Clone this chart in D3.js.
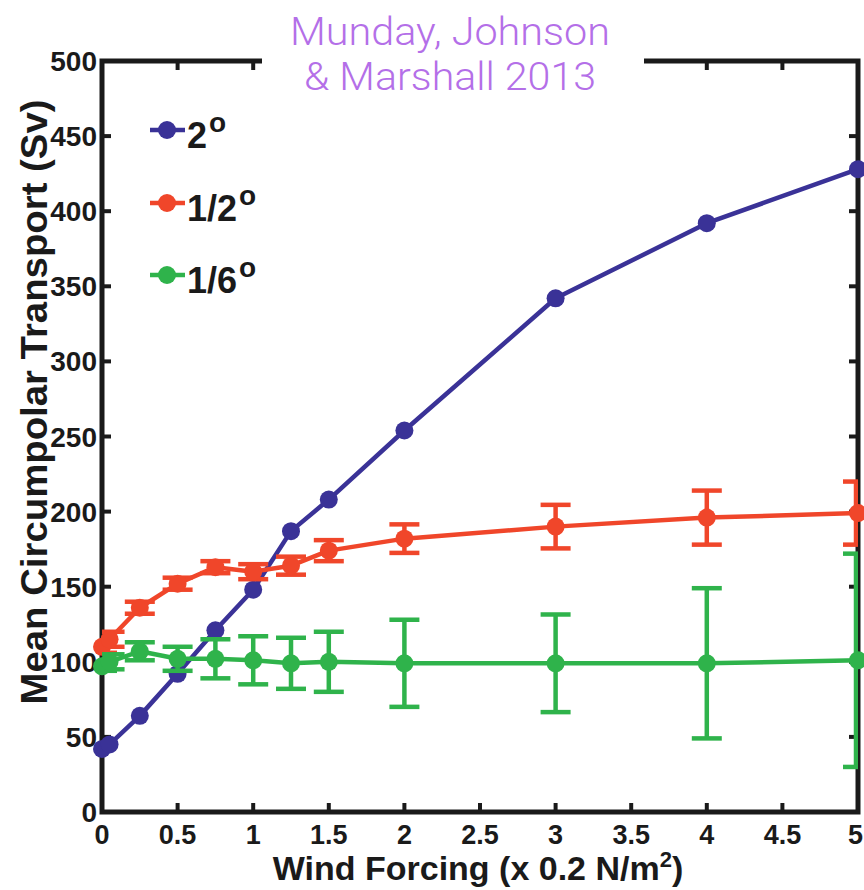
<!DOCTYPE html>
<html><head><meta charset="utf-8">
<script src="https://cdn.jsdelivr.net/npm/d3@7"></script>
<style>body{margin:0;background:#fff} svg{display:block}</style>
</head><body>
<svg id="chart" width="864" height="890"></svg>
<script>
// ---- data ----
const windForcing = [0, 0.05, 0.25, 0.5, 0.75, 1, 1.25, 1.5, 2, 3, 4, 5];
const transport2deg = [42, 45, 64, 92, 121, 148, 187, 208, 254, 342, 392, 428];
const transportHalfDeg = [110, 115, 136, 152, 163, 160, 164, 174, 182, 190, 196, 199];
const errorHalfDeg = [4, 5, 4, 4, 4, 5, 6, 7, 9.5, 14.5, 18, 21];
const transportSixthDeg = [97, 100, 107, 102, 102, 101, 99, 100, 99, 99, 99, 101];
const errorSixthDeg = [3, 5, 6, 8, 13, 16, 17, 20, 29, 32.5, 50, 71];
const seriesLabels = ["2", "1/2", "1/6"];
const xTickValues = [0, 0.5, 1, 1.5, 2, 2.5, 3, 3.5, 4, 4.5, 5];
const xTickLabels = ["0", "0.5", "1", "1.5", "2", "2.5", "3", "3.5", "4", "4.5", "5"];
const yTickValues = [0, 50, 100, 150, 200, 250, 300, 350, 400, 450, 500];
const titleLines = ["Munday, Johnson", "& Marshall 2013"];

const colors = ["#3a3297", "#f0462a", "#2fb34b"];

const series = [
  {values: transport2deg, err: null},
  {values: transportHalfDeg, err: errorHalfDeg},
  {values: transportSixthDeg, err: errorSixthDeg}
];

const svg = d3.select("#chart");
const W = 864;
const L = 102, R = 858, T = 61, B = 812;
const x = d3.scaleLinear().domain([0, 5]).range([L, R]);
const y = d3.scaleLinear().domain([0, 500]).range([B, T]);

const fontBold = "'Liberation Sans', Arial, Helvetica, sans-serif";
const ink = "#1a1a1a";

svg.append("defs").append("clipPath").attr("id", "plotclip")
  .append("rect").attr("x", L).attr("y", T).attr("width", R - L).attr("height", B - T);

// axes box (drawn below data)
const ax = svg.append("g");
ax.append("rect").attr("x", L).attr("y", T).attr("width", R - L).attr("height", B - T)
  .attr("fill", "none").attr("stroke", ink).attr("stroke-width", 5);
const tl = 9;
xTickValues.forEach(v => {
  ax.append("line").attr("x1", x(v)).attr("x2", x(v)).attr("y1", B).attr("y2", B - tl)
    .attr("stroke", ink).attr("stroke-width", 4);
  ax.append("line").attr("x1", x(v)).attr("x2", x(v)).attr("y1", T).attr("y2", T + tl)
    .attr("stroke", ink).attr("stroke-width", 4);
});
yTickValues.forEach(v => {
  ax.append("line").attr("x1", L).attr("x2", L + tl).attr("y1", y(v)).attr("y2", y(v))
    .attr("stroke", ink).attr("stroke-width", 4);
  ax.append("line").attr("x1", R).attr("x2", R - tl).attr("y1", y(v)).attr("y2", y(v))
    .attr("stroke", ink).attr("stroke-width", 4);
});

// tick labels (keep the last one inside the page)
xTickValues.forEach((v, i) => {
  const px = x(v);
  const last = px + 9 > W;
  ax.append("text").attr("x", last ? W - 1 : px).attr("y", 844)
    .attr("text-anchor", last ? "end" : "middle").attr("font-family", fontBold).attr("font-weight", "bold")
    .attr("font-size", 27).attr("fill", ink)
    .text(xTickLabels[i]);
});
yTickValues.forEach(v => {
  ax.append("text").attr("x", 97).attr("y", y(v) + 10)
    .attr("text-anchor", "end").attr("font-family", fontBold).attr("font-weight", "bold")
    .attr("font-size", 28).attr("fill", ink).text(v);
});

// title background hides part of top axis
svg.append("rect").attr("x", 262).attr("y", 0).attr("width", 382).attr("height", 100).attr("fill", "#fff");

// data
series.forEach((s, i) => {
  const g = svg.append("g");
  const pts = windForcing.map((w, j) => ({x: w, y: s.values[j], e: s.err ? s.err[j] : 0}));
  if (s.err) {
    const eg = g.append("g").attr("clip-path", "url(#plotclip)")
      .attr("stroke", colors[i]).attr("stroke-width", 4.5).attr("fill", "none");
    pts.forEach(p => {
      const cx = x(p.x), y1 = y(p.y + p.e), y2 = y(p.y - p.e), hw = 15;
      const vx = cx >= R - 1 ? cx - 2 : cx;
      eg.append("line").attr("x1", vx).attr("x2", vx).attr("y1", y1).attr("y2", y2);
      eg.append("line").attr("x1", cx - hw).attr("x2", cx + hw).attr("y1", y1).attr("y2", y1);
      eg.append("line").attr("x1", cx - hw).attr("x2", cx + hw).attr("y1", y2).attr("y2", y2);
    });
  }
  g.append("path").datum(pts)
    .attr("fill", "none").attr("stroke", colors[i]).attr("stroke-width", 4.5)
    .attr("stroke-linejoin", "round")
    .attr("d", d3.line().x(d => x(d.x)).y(d => y(d.y)));
  g.selectAll("circle").data(pts).join("circle")
    .attr("cx", d => x(d.x)).attr("cy", d => y(d.y)).attr("r", 9)
    .attr("fill", colors[i]);
});

// axis titles
const xl = svg.append("text").attr("x", 478).attr("y", 880).attr("text-anchor", "middle")
  .attr("font-family", fontBold).attr("font-weight", "bold").attr("font-size", 34).attr("fill", ink);
xl.append("tspan").text("Wind Forcing (x 0.2 N/m");
xl.append("tspan").attr("dy", -13).attr("font-size", 22).text("2");
xl.append("tspan").attr("dy", 13).text(")");

svg.append("text").attr("transform", "translate(47,402) rotate(-90)").attr("text-anchor", "middle")
  .attr("font-family", fontBold).attr("font-weight", "bold").attr("font-size", 37).attr("fill", ink)
  .attr("textLength", 605).attr("lengthAdjust", "spacingAndGlyphs")
  .text("Mean Circumpolar Transport (Sv)");

// title
const titleLen = [320, 292];
titleLines.forEach((t, i) => {
  svg.append("text").attr("x", 450).attr("y", 45 + i * 45).attr("text-anchor", "middle")
    .attr("font-family", "Roboto, 'Liberation Sans', Helvetica, Arial, sans-serif").attr("font-weight", 300)
    .attr("font-size", 39).attr("fill", "#b46fe8")
    .attr("textLength", titleLen[i]).attr("lengthAdjust", "spacingAndGlyphs")
    .text(t);
});

// legend
const legY = [130, 203, 275];
seriesLabels.forEach((lab, i) => {
  const g = svg.append("g");
  g.append("line").attr("x1", 150).attr("x2", 185).attr("y1", legY[i]).attr("y2", legY[i])
    .attr("stroke", colors[i]).attr("stroke-width", 4.5);
  g.append("circle").attr("cx", 167).attr("cy", legY[i]).attr("r", 9).attr("fill", colors[i]);
  const t = g.append("text").attr("x", 187).attr("y", legY[i] + 18)
    .attr("font-family", fontBold).attr("font-weight", "bold").attr("font-size", 36).attr("fill", ink);
  t.append("tspan").text(lab);
  t.append("tspan").attr("dy", -16).attr("dx", 2).attr("font-size", 28).text("o");
});
</script>
</body></html>
